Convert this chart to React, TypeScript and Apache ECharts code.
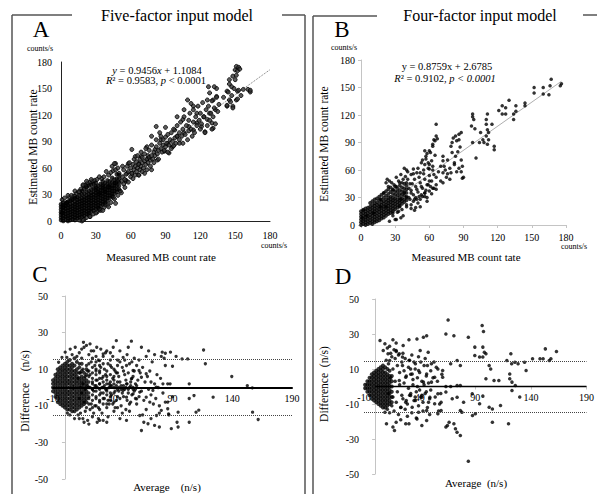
import { useEffect, useRef } from "react";
import * as echarts from "echarts";

const FONT = '"Liberation Serif", "Times New Roman", serif';

// ---------- axis ticks ----------
const RATE_TICKS = { min: 0, max: 180, interval: 30 };
const DIFF_X = { min: -10, max: 190, interval: 50 };
const DIFF_Y = { min: -50, max: 50, interval: 20 };

// ---------- regression / limits ----------
const A_FIT = { slope: 0.9456, intercept: 1.1084, xEnd: 180 };
const B_FIT = { slope: 0.8759, intercept: 2.6785, xEnd: 176 };
const C_LIMITS = [15.3, -15.3];
const D_LIMITS = [14.5, -14.5];
const D_MEAN = 0.3;

// ---------- Panel A (five-factor) ----------
// dense core rows: [x, y1, y2, ...]
const A_CORE_ROWS = [
  [0, 1, 4, 7, 10, 13, 16, 19],
  [2, 0, 3, 6, 9, 12, 15, 18, 21],
  [4, 2, 5, 8, 11, 14, 17, 20],
  [6, 0, 3, 6, 9, 12, 15, 18, 22],
  [8, 1, 4, 7, 10, 13, 16, 19, 23],
  [10, 2, 5, 8, 11, 14, 17, 20, 24],
  [12, 1, 4, 7, 10, 13, 16, 19, 22, 26],
  [14, 3, 6, 9, 12, 15, 18, 21, 24, 27],
  [16, 4, 7, 10, 13, 16, 19, 22, 25, 29],
  [18, 5, 8, 11, 14, 17, 20, 23, 26, 30, 34],
  [20, 6, 9, 12, 15, 18, 21, 24, 27, 31, 36],
  [22, 8, 11, 14, 17, 20, 23, 26, 29, 33, 38],
  [24, 9, 12, 15, 18, 21, 24, 27, 30, 34, 40],
  [26, 11, 14, 17, 20, 23, 26, 29, 32, 36, 41],
  [28, 12, 15, 18, 21, 24, 27, 30, 33, 37, 42],
  [30, 14, 17, 20, 23, 26, 29, 32, 35, 39, 43],
  [32, 15, 18, 21, 24, 27, 30, 33, 36, 40],
  [34, 17, 20, 23, 26, 29, 32, 35, 38, 42],
  [36, 19, 22, 25, 28, 31, 34, 37, 41, 45],
  [38, 21, 24, 27, 30, 33, 36, 39, 43],
  [40, 23, 26, 29, 32, 35, 38, 42, 46],
  [42, 26, 29, 32, 35, 38, 41, 45],
  [44, 28, 31, 34, 37, 40, 44, 49],
  [46, 31, 34, 37, 40, 43, 47],
  [48, 33, 36, 40, 44, 48, 53],
  [50, 36, 40, 44, 48, 52],
];
const A_POINTS = [
  [1, 24], [3, 26], [5, 21], [7, 27], [9, 29], [11, 28], [13, 31], [15, 33], [17, 36], [19, 40], [21, 41],
  [23, 43], [25, 44], [27, 45], [29, 46], [31, 47], [35, 48], [37, 50], [41, 52], [43, 55], [45, 57],
  [47, 58], [49, 60], [20, 2], [22, 4], [25, 5], [28, 8], [31, 10], [34, 12], [37, 15], [40, 18], [43, 21],
  [46, 25], [49, 29], [52, 32], [55, 38], [18, 0], [16, 1], [24, 7], [33, 13], [38, 19], [45, 27], [51, 34],
  [54, 42], [56, 46], [47, 65], [44, 62], [39, 56], [33, 50], [26, 47], [12, 34], [6, 29],
  [151, 175], [150, 171], [148, 164], [145, 160], [147, 152], [143, 147], [152, 147], [157, 149], [161, 149],
  [145, 137], [151, 137], [143, 130], [148, 130], [134, 141], [128, 145], [127, 152], [131, 137], [126, 137],
  [133, 126], [128, 122], [123, 118], [117, 122], [114, 130], [109, 137], [112, 133], [106, 126], [100, 118],
  [105, 115], [110, 107], [117, 111], [121, 107], [126, 115], [130, 111], [131, 105], [124, 101], [114, 103],
  [106, 100], [100, 96], [98, 103], [102, 88], [96, 84], [92, 88], [86, 92], [82, 107], [78, 96], [74, 84],
  [81, 81], [89, 79], [93, 77], [83, 69], [75, 71], [69, 73], [67, 65], [61, 81], [64, 73], [58, 65], [53, 62],
  [50, 54], [46, 65], [57, 54], [61, 54], [67, 52], [72, 54], [78, 58], [56, 45], [47, 43], [41, 39], [36, 39],
  [30, 37], [33, 31], [38, 33], [22, 39], [22, 45], [19, 41], [16, 33], [12, 28], [9, 24], [5, 20], [2, 16],
  [1, 9], [25, 5], [30, 9], [36, 12], [41, 16], [47, 20], [33, 14], [19, 1],
  [52, 45], [53, 50], [54, 58], [55, 47], [56, 53], [57, 62], [58, 44], [58, 56], [59, 66], [60, 50], [60, 60],
  [61, 54], [62, 48], [62, 64], [63, 58], [63, 70], [64, 52], [64, 62], [65, 56], [65, 67], [66, 60], [66, 74],
  [67, 52], [67, 64], [68, 58], [68, 70], [69, 62], [69, 78], [70, 56], [70, 66], [70, 72], [71, 60], [72, 68],
  [72, 76], [73, 64], [73, 82], [74, 70], [74, 58], [75, 66], [75, 74], [76, 72], [76, 80], [77, 62], [77, 69],
  [78, 74], [78, 86], [79, 70], [80, 66], [80, 78], [81, 74], [82, 84], [82, 92], [83, 76], [84, 80], [84, 70],
  [85, 88], [86, 82], [86, 96], [87, 78], [88, 86], [88, 92], [89, 80], [90, 84], [90, 95], [91, 88], [92, 78],
  [92, 98], [93, 86], [94, 92], [95, 82], [95, 100], [96, 90], [97, 85], [97, 104], [98, 94], [99, 88],
  [100, 96], [100, 108], [102, 92], [102, 100], [103, 112], [104, 96], [105, 88], [105, 104], [106, 118],
  [107, 98], [108, 108], [109, 92], [110, 102], [110, 114], [111, 122], [112, 104], [113, 96], [114, 112],
  [114, 126], [115, 100], [116, 118], [117, 108], [118, 130], [119, 114], [120, 104], [120, 122], [121, 110],
  [122, 134], [123, 118], [124, 100], [125, 126], [126, 108], [127, 130], [128, 114], [129, 122], [130, 136],
  [130, 104], [131, 118], [132, 128], [133, 110], [134, 140], [134, 150], [135, 124], [136, 132], [132, 152],
  [140, 140], [143, 131], [144, 146], [146, 135], [147, 142], [148, 128], [149, 150], [150, 160], [151, 165],
  [152, 170], [153, 174], [154, 172], [152, 138], [155, 142], [153, 148], [163, 146], [163, 148], [145, 155],
  [85, 100], [90, 106],
];

// ---------- Panel B (four-factor) ----------
const B_CORE_ROWS = [
  [0, 0, 3, 6, 9, 12, 15],
  [2, 1, 4, 7, 10, 13, 16],
  [4, 0, 3, 6, 9, 12, 15, 18],
  [6, 1, 4, 7, 10, 13, 16, 19],
  [8, 2, 5, 8, 11, 14, 17, 20, 24],
  [10, 1, 4, 7, 10, 13, 16, 19, 22, 26],
  [12, 3, 6, 9, 12, 15, 18, 21, 24, 28],
  [14, 4, 7, 10, 13, 16, 19, 22, 25, 29],
  [16, 5, 8, 11, 14, 17, 20, 23, 27, 31],
  [18, 7, 10, 13, 16, 19, 22, 25, 28, 33],
  [20, 8, 11, 14, 17, 20, 23, 26, 30, 35],
  [22, 10, 13, 16, 19, 22, 25, 28, 32, 37],
  [24, 12, 15, 18, 21, 24, 27, 30, 34, 39],
  [26, 13, 16, 19, 22, 25, 28, 31, 36, 41],
  [28, 15, 18, 21, 24, 27, 30, 34, 38],
  [30, 17, 20, 23, 26, 29, 33, 37, 42],
  [32, 19, 22, 25, 28, 32, 36, 40],
  [34, 21, 24, 27, 30, 34, 38, 43],
  [36, 23, 26, 29, 33, 37, 41],
  [38, 25, 28, 32, 36, 40, 45],
  [40, 27, 31, 35, 39, 43],
];
const B_POINTS = [
  [176, 154], [175, 152], [167, 159], [166, 152], [160, 150], [160, 143], [165, 142], [152, 150], [152, 144],
  [144, 133], [144, 130], [136, 130], [136, 124], [134, 121], [134, 115], [130, 136], [127, 128], [127, 121],
  [124, 130], [124, 121], [121, 125], [115, 110], [111, 121], [110, 115], [110, 110], [111, 104], [112, 101],
  [110, 97], [107, 93], [105, 101], [104, 90], [108, 90], [111, 88], [117, 86], [117, 82], [112, 93], [98, 90],
  [101, 73], [98, 121], [99, 115], [88, 101], [86, 99], [83, 97], [86, 93], [80, 90], [79, 86], [80, 79],
  [83, 75], [88, 71], [89, 64], [89, 51], [82, 66], [79, 57], [78, 50], [73, 64], [72, 57], [76, 71], [72, 75],
  [66, 110], [66, 97], [64, 93], [63, 86], [60, 81], [56, 81], [57, 75], [54, 71], [59, 68], [63, 64], [60, 61],
  [62, 48], [59, 44], [66, 39], [63, 40], [56, 35], [56, 31], [53, 42], [49, 57], [46, 61], [44, 55], [41, 50],
  [38, 62], [40, 46], [34, 46], [31, 42], [28, 39], [22, 46], [24, 42], [20, 35], [28, 13], [34, 20], [35, 28],
  [40, 30], [44, 35], [49, 39], [17, 20], [11, 13], [5, 10], [2, 17], [1, 8], [43, 28], [37, 10], [31, 6],
  [25, 4], [33, 15], [40, 20], [47, 28], [51, 31], [22, 20], [17, 28],
  [42, 30], [44, 38], [46, 33], [48, 42], [50, 36], [52, 46], [54, 40], [56, 50], [58, 44], [60, 54], [43, 45],
  [47, 50], [49, 28], [51, 52], [53, 33], [55, 56], [57, 38], [59, 62], [61, 42], [62, 70], [64, 55], [65, 76],
  [44, 22], [46, 26], [48, 19], [50, 24], [52, 28], [54, 31], [56, 35], [58, 30], [60, 37], [37, 50], [39, 53],
  [41, 58], [35, 55], [33, 48], [31, 52], [29, 44], [27, 46], [25, 48], [23, 50], [28, 10], [32, 14], [36, 17],
  [40, 22], [45, 45], [50, 62], [53, 68], [57, 72], [60, 66], [63, 60], [66, 52], [68, 58], [70, 64], [72, 70],
  [74, 60], [76, 56], [78, 62], [62, 34], [64, 40], [66, 44], [58, 26], [52, 20], [47, 16], [35, 8], [30, 6],
  [38, 35], [42, 40], [46, 56], [40, 60], [36, 46], [55, 60], [58, 78], [61, 79], [63, 88], [65, 92], [67, 94],
  [56, 66], [52, 57], [60, 48], [48, 30], [44, 18], [70, 48], [72, 46], [75, 52], [84, 58], [86, 62], [88, 58],
  [90, 52], [82, 68], [85, 80], [87, 85], [84, 92], [81, 95], [98, 118], [100, 105], [97, 108],
];

// ---------- Panel C (five-factor Bland-Altman) ----------
const C_CORE_ROWS = [
  [-10, -2, 0, 2, 4],
  [-8, -5, -3, -1, 1, 3, 5, 7],
  [-6, -8, -6, -4, -2, 0, 2, 4, 6, 8, 10],
  [-4, -9, -7, -5, -3, -1, 1, 3, 5, 7, 9, 11],
  [-2, -10, -8, -6, -4, -2, 0, 2, 4, 6, 8, 10, 12],
  [0, -11, -9, -7, -5, -3, -1, 1, 3, 5, 7, 9, 11, 13],
  [2, -12, -10, -8, -6, -4, -2, 0, 2, 4, 6, 8, 10, 12, 14],
  [4, -12, -10, -8, -6, -4, -2, 0, 2, 4, 6, 8, 10, 12, 15],
  [6, -13, -11, -9, -7, -5, -3, -1, 1, 3, 5, 7, 9, 11, 13],
  [8, -13, -11, -9, -7, -5, -3, -1, 1, 3, 5, 7, 9, 12, 16],
  [10, -12, -10, -8, -6, -4, -2, 0, 2, 4, 6, 8, 10, 14],
  [12, -11, -9, -7, -5, -3, -1, 1, 3, 5, 8, 11],
  [14, -10, -8, -6, -4, -2, 0, 2, 4, 6, 9, 13],
  [16, -9, -7, -5, -3, -1, 1, 3, 5, 8],
  [18, -8, -6, -4, -2, 0, 2, 4, 7, 10],
];
const C_MID_ROWS = [
  [20, -9, -6, -3, 0, 3, 6, 9, 13],
  [23, -11, -7, -4, -1, 2, 5, 8, 11, 16],
  [26, -10, -5, -2, 1, 4, 7, 10, 14],
  [29, -12, -7, -4, -1, 2, 5, 9, 12],
  [32, -6, -3, 0, 3, 6, 13],
  [35, -9, -4, -2, 2, 4, 9],
  [38, -7, -3, 1, 3, 7, 12],
  [41, -8, -3, 2, 6, 10],
  [44, -5, -1, 3, 8],
];
const C_POINTS = [
  [10, 17], [11, -15], [12, 19], [13, -14], [14, 16], [15, -17], [16, 22], [17, -13], [18, 12], [19, -18],
  [20, 18], [21, -12], [22, 14], [23, -16], [24, 20], [25, -10], [26, 9], [27, -19], [28, 15], [29, -8],
  [30, 11], [31, -14], [32, 17], [33, -6], [34, 7], [35, -11], [36, 13], [37, -9], [38, 19], [39, -4],
  [40, 5], [41, -13], [42, 9], [43, -7], [44, 15], [45, -2], [46, 3], [47, -10], [48, 11], [49, -5],
  [50, 7], [51, -12], [52, 2], [53, -3], [54, 13], [55, -8], [56, 5], [57, -1], [58, 9], [59, -6], [60, 1],
  [11, 5], [12, -6], [13, 8], [14, -3], [15, 10], [16, -8], [17, 6], [18, -11], [19, 9], [20, -5], [21, 7],
  [22, -9], [23, 3], [24, -2], [25, 12], [26, -6], [27, 4], [28, -11], [29, 8], [30, -3], [31, 5], [32, -9],
  [33, 10], [34, -1], [35, 6], [36, -7], [37, 2], [38, -5], [39, 11], [40, -9], [41, 4], [42, -2], [43, 8],
  [44, -11], [45, 6], [46, -6], [47, 1], [48, -3], [49, 9], [50, -1], [51, 4], [52, -7], [53, 8], [54, 0],
  [55, 3], [56, -4], [57, 6], [58, -2], [59, 2], [60, -9],
  [12, 13], [14, 21], [16, -19], [18, 23], [20, -20], [22, 20], [24, -14], [26, 17], [28, -17], [30, 21],
  [32, -18], [34, 19], [36, -16], [38, 15], [40, 17], [42, -11], [44, 12], [46, 14], [48, -14], [50, 15],
  [52, 18], [54, -13], [56, 14], [58, 16], [60, 12],
  [13, 0], [15, 2], [17, -1], [19, 1], [21, 0], [23, -1], [25, 1], [27, 0], [29, 2], [31, 0], [33, 1],
  [35, -1], [37, 0], [39, 1], [41, 0], [43, 1], [45, 0], [47, -1], [49, 1], [51, 0], [53, -1], [55, 1],
  [57, 0], [59, -1],
  [61, 4], [62, -5], [63, 8], [64, -2], [65, 11], [66, -7], [67, 3], [68, -12], [69, 6], [70, -1], [71, 9],
  [72, -4], [73, 14], [74, -9], [75, 2], [76, -6], [77, 7], [78, 0], [79, -10], [80, 5], [82, -3], [84, 12],
  [86, -8], [88, 2], [90, -5], [62, 15], [65, -15], [68, 17], [72, -17], [75, 18], [79, -14], [83, 16],
  [87, -15], [64, 22], [70, 20], [66, -19],
  [116, 20.5], [117.5, 13], [139.6, 6], [152.6, 1], [156.8, -0.2], [157, -13.5], [161.7, -17.5], [124, -5.3],
  [109.7, -13.5], [112, -12.4], [104, -19], [104, -6], [108, -4.4], [104, 2], [102.7, 15.6], [98, 15.6],
  [93, 17], [88.3, 19.3], [90, 11.6], [84, 18.7], [81.4, 19.3], [80.6, 17], [86, 2], [82, 2], [84, -8],
  [86, -11.6], [86.7, -14.4], [94.7, -13.5], [93.8, -19], [94.7, -21.6], [89, -22.5], [79, -21.6],
  [75, -20.7], [69.5, -19.8], [64, -23.5], [76.6, -15.3], [80.6, -12.5], [62.6, -15.3], [51.5, -18],
  [46, -17], [35, -19], [29, -18], [43, 25.6], [55.6, 25.3], [53, 22], [62, 9.3], [64, 5.6], [68, 7.5],
  [72, 3], [73.6, -1.6], [76.4, 0.2], [62.6, -2.5], [68, -5.3], [71, -8], [60, -6.2], [54, -9], [57, -3.5],
  [51.5, -5.3], [48.7, -1.6], [51.5, 2], [55.6, 4.7], [57, 9.3], [51.5, 12], [48.7, 16.5], [46, 20],
  [40.4, 22], [35, 20], [32, 18.4], [29, 14.7], [26.6, 22], [21, 23.8], [15.5, 24.7], [8.6, 22], [4.4, 21],
  [0.2, 19.3], [-2.5, 16.5], [-5.3, 13.8], [1.6, 16.5], [4, -15], [8, -17], [2, -14], [12, -17], [6, 18],
];

// ---------- Panel D (four-factor Bland-Altman) ----------
const D_CORE_ROWS = [
  [-9, -1, 1],
  [-7, -3, -1, 1, 3],
  [-5, -5, -3, -1, 1, 3, 5],
  [-3, -7, -5, -3, -1, 1, 3, 5, 7],
  [-1, -8, -6, -4, -2, 0, 2, 4, 6, 8],
  [1, -9, -7, -5, -3, -1, 1, 3, 5, 7, 9],
  [3, -10, -8, -6, -4, -2, 0, 2, 4, 6, 8, 10],
  [5, -11, -9, -7, -5, -3, -1, 1, 3, 5, 7, 9, 11],
  [7, -12, -10, -8, -6, -4, -2, 0, 2, 4, 6, 8, 10, 12],
  [9, -12, -10, -8, -6, -4, -2, 0, 2, 4, 6, 8, 11],
  [11, -11, -9, -7, -5, -3, -1, 1, 3, 5, 7, 10],
  [13, -10, -8, -6, -4, -2, 0, 2, 4, 6, 9],
  [15, -9, -6, -3, 0, 3, 6],
];
const D_POINTS = [
  [10, 15], [11, -13], [12, 13], [13, -15], [14, 19], [15, -11], [16, 10], [17, -14], [18, 16], [19, -9],
  [20, 12], [21, -16], [22, 8], [23, -12], [24, 14], [25, -7], [26, 9], [27, -13], [28, 6], [29, -10],
  [30, 11], [31, -5], [32, 7], [33, -15], [34, 4], [35, -8], [36, 10], [37, -3], [38, 5], [39, -11],
  [40, 8], [41, -6], [42, 3], [43, -9], [44, 12], [45, -4], [46, 6], [47, -12], [48, 2], [49, -7], [50, 9],
  [12, -4], [14, 5], [16, -6], [18, 3], [20, -3], [22, 1], [24, -5], [26, 2], [28, -8], [30, -1], [32, -4],
  [34, 1], [36, -6], [38, 0], [40, -2], [42, -5], [44, 1], [46, -3], [48, -9], [50, -2],
  [11, 22], [13, 23], [15, 17], [17, 21], [19, 20], [21, 18], [23, -19], [25, 19], [27, 16], [29, -17],
  [31, 15], [33, 18], [35, 14], [37, -18], [39, 17], [41, 14], [43, -14], [45, 16], [47, 12], [49, -16],
  [52, 5], [54, -6], [56, 3], [58, -10], [60, 7], [53, 14], [57, -14], [55, 11], [59, -4],
  [65.6, 38], [96.2, 34.9], [97.4, 31.4], [83.8, 28.2], [70.8, 29], [63.6, 30], [46.3, 29], [43.4, 28.2],
  [37.6, 27.2], [30.4, 26.7], [16, 26.7], [18.9, 24.8], [25.2, 23.4], [89.6, 22.5], [96.8, 22.5],
  [98.2, 19.6], [96.8, 16.8], [93.9, 16.8], [89.6, 17.7], [99.6, 18.7], [102.5, 12], [103.9, 10],
  [99.6, 4.4], [106.9, 3.4], [111.2, 3.4], [118.4, 14.9], [122.7, 13], [125.6, 13.9], [128.5, 13],
  [122, 18.7], [134.3, 13.9], [135.7, 9.1], [141.5, 15.8], [148.2, 15.8], [151, 15.8], [153, 21.5],
  [156.5, 14.9], [158, 15.8], [163, 20], [121, 7.2], [121, 4.4], [123, 2.5], [126, 0.6], [123, -2.3],
  [130, -6], [119.9, -21.3], [112.7, -10.9], [105.4, -12.8], [102.5, -11.8], [96.8, -5.5], [93.9, -9.9],
  [87.3, -4.2], [90.1, -15.6], [87.5, -16.6], [105.4, -20.4], [76.6, -13.7], [78, -14.7], [72.2, -24.2],
  [73.6, -26.1], [76.6, -28], [83.8, -42.7], [66.5, -20.4], [65, -22.3], [63.6, -23.2], [70.8, -21.3],
  [56.4, -15.6], [59.3, -13.7], [46.3, -19.4], [42, -22.3], [37.6, -18.5], [30.4, -21.3], [27.5, -21.3],
  [18.9, -20.4], [17.4, -25.1], [16, -23.2], [10.2, -21.3], [8.8, -14.7],
  [4.4, 26.3], [8.8, 24.4], [7.3, 20.6], [11.6, 18.7], [13.1, 14.9], [18.9, 20.6], [21.7, 18.7],
  [24.6, 16.8], [30.4, 14.9], [36.2, 13], [40.5, 20.6], [47.7, 19.6], [50.6, 13], [56.4, 10], [60.7, 9.1],
  [67.9, 13], [73.7, 14.9], [76.6, 12], [60.7, 5.3], [53.5, 5.3], [46.3, 7.2], [39.1, 9.1], [33.3, 7.2],
  [27.5, 5.3], [21.7, 3.4], [31.9, 10], [24.6, 12], [43.4, 2.5], [50.6, 2.5], [63.6, 0], [67.9, 0],
  [73.7, 0.6], [76.6, 0.6], [63.6, -3.2], [56.4, -4.2], [49.2, -6.1], [42, -6.1], [36.2, -8], [31.9, -5.1],
  [27.5, -9], [23.2, -11.8], [33.3, -11.8], [39, -14.7], [46.3, -13.7], [53.5, -9.9], [59.3, -9],
  [69.3, -7], [73.7, -6.1], [79.5, -9],
];

const flatten = (rows: number[][]) => rows.flatMap(([x, ...ys]) => ys.map((y) => [x, y]));
const fitLine = (f: { slope: number; intercept: number; xEnd: number }) => [
  [0, f.intercept],
  [f.xEnd, f.slope * f.xEnd + f.intercept],
];

export default function App() {
  const ref = useRef<HTMLDivElement>(null);
  useEffect(() => {
    if (!ref.current) return;
    const chart = echarts.init(ref.current, null, { renderer: "svg" });
    const label = (color: string, margin: number) => ({
      fontFamily: FONT,
      fontSize: 10,
      color,
      margin,
    });
    const blackAxis = { show: true, lineStyle: { color: "#222", width: 1 } };
    const grayAxis = { show: true, lineStyle: { color: "#c4c4c4", width: 1 } };
    const grayTick = { show: true, length: 3, lineStyle: { color: "#c4c4c4" } };
    const txt = (x: number, y: number, text: string, size: number, extra: any = {}) => ({
      type: "text",
      x,
      y,
      ...extra,
      style: {
        text,
        fill: "#000",
        fontFamily: FONT,
        fontSize: size,
        textAlign: "center",
        textVerticalAlign: "middle",
        ...(extra.style || {}),
      },
    });
    const ln = (x1: number, y1: number, x2: number, y2: number) => ({
      type: "line",
      shape: { x1, y1, x2, y2 },
      style: { stroke: "#555", lineWidth: 1.5 },
    });
    const rich = { i: { fontStyle: "italic", fontFamily: FONT, fontSize: 10.5 }, n: { fontFamily: FONT, fontSize: 10.5 } };
    const dottedLimit = (vals: number[]) => ({
      silent: true,
      symbol: "none",
      label: { show: false },
      lineStyle: { color: "#444", type: "dotted", width: 1 },
      data: vals.map((v) => ({ yAxis: v })),
    });

    chart.setOption({
      animation: false,
      backgroundColor: "#fff",
      grid: [
        { left: 61, top: 62, width: 209, height: 159 },
        { left: 361, top: 60, width: 205, height: 165 },
        { left: 53, top: 296, width: 239, height: 183 },
        { left: 364, top: 299, width: 231, height: 175 },
      ],
      xAxis: [
        { gridIndex: 0, type: "value", ...RATE_TICKS, axisLine: blackAxis, axisTick: { show: false }, splitLine: { show: false }, axisLabel: label("#000", 9) },
        { gridIndex: 1, type: "value", ...RATE_TICKS, axisLine: grayAxis, axisTick: grayTick, splitLine: { show: false }, axisLabel: label("#000", 7) },
        { gridIndex: 2, type: "value", ...DIFF_X, position: "bottom", offset: -91.5, axisLine: { show: true, onZero: false, lineStyle: { color: "#000", width: 2 } }, axisTick: { show: false }, splitLine: { show: false }, axisLabel: label("#000", 6) },
        { gridIndex: 3, type: "value", ...DIFF_X, position: "bottom", offset: -87.5, axisLine: { show: true, onZero: false, lineStyle: { color: "#c4c4c4", width: 1 } }, axisTick: { show: true, length: 3, inside: false, lineStyle: { color: "#c4c4c4" } }, splitLine: { show: false }, axisLabel: label("#000", 6) },
      ],
      yAxis: [
        { gridIndex: 0, type: "value", ...RATE_TICKS, axisLine: blackAxis, axisTick: { show: false }, splitLine: { show: false }, axisLabel: label("#000", 9) },
        { gridIndex: 1, type: "value", ...RATE_TICKS, axisLine: grayAxis, axisTick: grayTick, splitLine: { show: false }, axisLabel: label("#000", 6) },
        { gridIndex: 2, type: "value", ...DIFF_Y, axisLine: grayAxis, axisTick: grayTick, splitLine: { show: false }, axisLabel: label("#000", 5) },
        { gridIndex: 3, type: "value", ...DIFF_Y, axisLine: grayAxis, axisTick: grayTick, splitLine: { show: false }, axisLabel: label("#000", 5) },
      ],
      series: [
        { type: "line", xAxisIndex: 0, yAxisIndex: 0, data: fitLine(A_FIT), symbol: "none", lineStyle: { color: "#777", type: "dotted", width: 1 }, z: 1 },
        { type: "scatter", xAxisIndex: 0, yAxisIndex: 0, data: A_POINTS, symbolSize: 4, itemStyle: { color: "#333", borderColor: "#000", borderWidth: 1 }, z: 2 },
        { type: "scatter", xAxisIndex: 0, yAxisIndex: 0, data: flatten(A_CORE_ROWS), symbolSize: 4.5, itemStyle: { color: "#000" }, z: 3 },
        { type: "line", xAxisIndex: 1, yAxisIndex: 1, data: fitLine(B_FIT), symbol: "none", lineStyle: { color: "#999", type: "solid", width: 0.8 }, z: 1 },
        { type: "scatter", xAxisIndex: 1, yAxisIndex: 1, data: flatten(B_CORE_ROWS), symbolSize: 3.8, itemStyle: { color: "#000" }, z: 2 },
        { type: "scatter", xAxisIndex: 1, yAxisIndex: 1, data: B_POINTS, symbolSize: 3.5, itemStyle: { color: "#000" }, z: 2 },
        { type: "scatter", xAxisIndex: 2, yAxisIndex: 2, data: flatten(C_CORE_ROWS), symbolSize: 4, itemStyle: { color: "#000" }, z: 2, markLine: dottedLimit(C_LIMITS) },
        { type: "scatter", xAxisIndex: 2, yAxisIndex: 2, data: flatten(C_MID_ROWS), symbolSize: 3.3, itemStyle: { color: "#000" }, z: 2 },
        { type: "scatter", xAxisIndex: 2, yAxisIndex: 2, data: C_POINTS, symbolSize: 3.3, itemStyle: { color: "#000" }, z: 2 },
        {
          type: "scatter", xAxisIndex: 3, yAxisIndex: 3, data: flatten(D_CORE_ROWS), symbolSize: 4, itemStyle: { color: "#000" }, z: 2,
          markLine: dottedLimit(D_LIMITS),
        },
        {
          type: "scatter", xAxisIndex: 3, yAxisIndex: 3, data: D_POINTS, symbolSize: 3.5, itemStyle: { color: "#000" }, z: 2,
          markLine: { silent: true, symbol: "none", label: { show: false }, lineStyle: { color: "#000", type: "solid", width: 1.3 }, data: [[{ coord: [0, D_MEAN] }, { coord: [190, D_MEAN] }]] },
        },
      ],
      graphic: [
        ln(12, 15, 12, 494), ln(12, 15, 72, 15), ln(282, 15, 305, 15), ln(305, 15, 305, 494),
        ln(313, 16, 313, 494), ln(313, 16, 377, 16), ln(583, 15, 597, 15),
        txt(177, 15, "Five-factor input model", 16),
        txt(480, 15, "Four-factor input model", 16),
        txt(41, 29, "A", 23), txt(342, 29, "B", 23), txt(40, 274, "C", 23), txt(343, 276, "D", 23),
        txt(40, 48, "counts/s", 8), txt(344, 47, "counts/s", 8),
        txt(274, 245, "counts/s", 8), txt(574, 246, "counts/s", 8),
        txt(157, 70, "", 10.5, { style: { text: "{i|y}{n| = 0.9456}{i|x}{n| + 1.1084}", rich } }),
        txt(156, 80, "", 10.5, { style: { text: "{i|R}{n|² = 0.9583, }{i|p}{n| < 0.0001}", rich } }),
        txt(447, 66, "", 10.5, { style: { text: "{n|y = 0.8759x + 2.6785}", rich } }),
        txt(445, 78, "", 10.5, { style: { text: "{i|R}{n|² = 0.9102, }{i|p < 0.0001}", rich } }),
        txt(161, 257, "Measured MB count rate", 11),
        txt(466, 257, "Measured MB count tate", 11),
        txt(167, 487, "Average    (n/s)", 11),
        txt(476, 483, "Average  (n/s)", 11),
        txt(33, 147, "Estimated MB count rate", 11.5, { rotation: Math.PI / 2 }),
        txt(324, 144, "Estimated MB count rate", 11.5, { rotation: Math.PI / 2 }),
        txt(25, 391, "Difference    (n/s)", 11.5, { rotation: Math.PI / 2 }),
        txt(324, 384, "Difference  (n/s)", 11.5, { rotation: Math.PI / 2 }),
      ],
    });
    return () => chart.dispose();
  }, []);
  return <div ref={ref} style={{ position: "absolute", left: 0, top: 0, width: 597, height: 494 }} />;
}
